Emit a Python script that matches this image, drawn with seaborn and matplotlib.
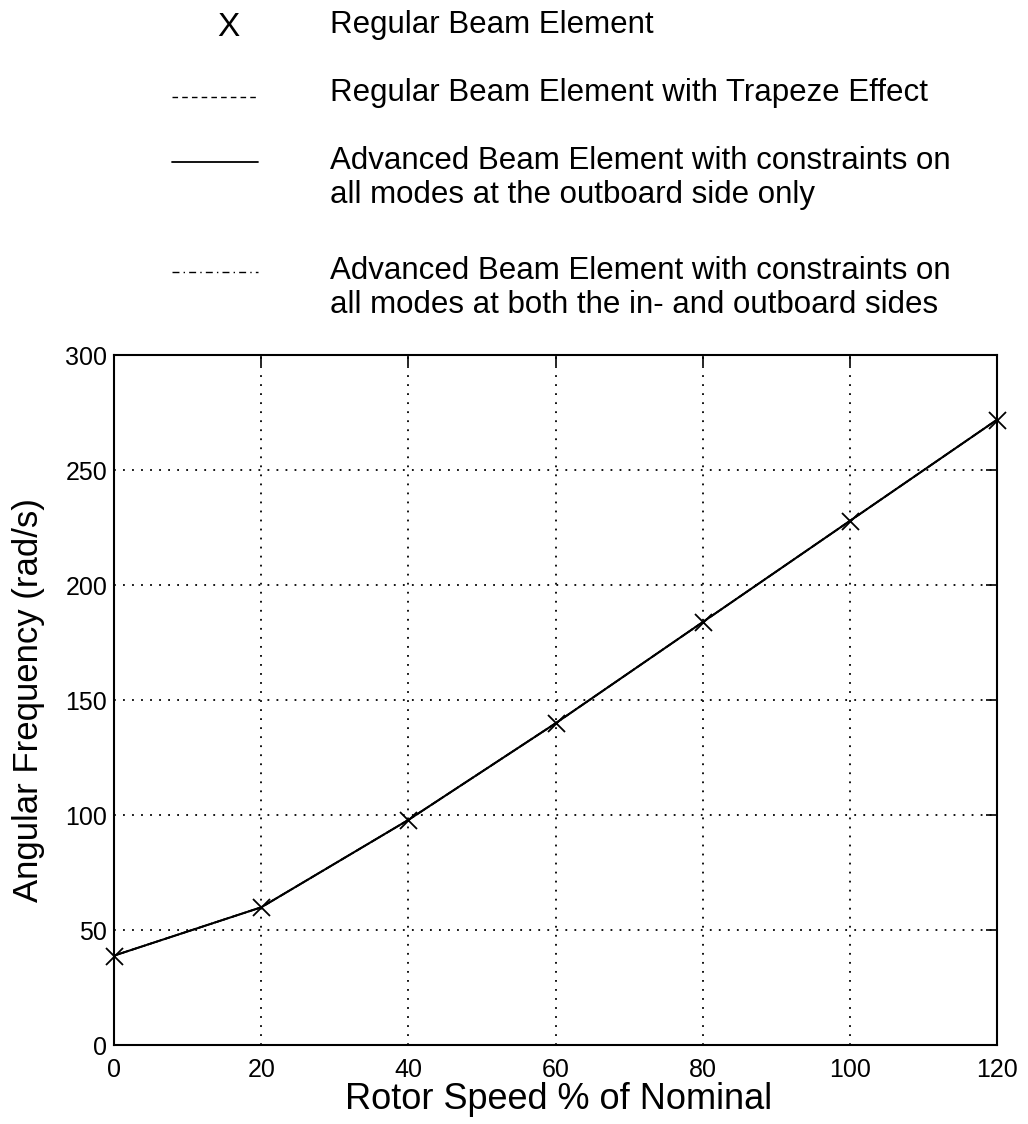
import matplotlib
matplotlib.use("Agg")
import matplotlib.pyplot as plt
from matplotlib.lines import Line2D
import seaborn as sns
import pandas as pd

rotor_speed = [0, 20, 40, 60, 80, 100, 120]
regular = [39, 60, 98, 140, 184, 228, 272]
regular_trapeze = [39, 60, 98, 140, 184, 228, 272]
advanced_outboard = [39, 60, 98, 140, 184, 228, 272]
advanced_both = [39, 60, 98, 140, 184, 228, 272]

legend_labels = [
    "Regular Beam Element",
    "Regular Beam Element with Trapeze Effect",
    "Advanced Beam Element with constraints on\nall modes at the outboard side only",
    "Advanced Beam Element with constraints on\nall modes at both the in- and outboard sides",
]
x_ticks = [0, 20, 40, 60, 80, 100, 120]
y_ticks = [0, 50, 100, 150, 200, 250, 300]

sns.set_style("white")
plt.rcParams['font.family'] = ['Liberation Sans', 'DejaVu Sans']

fig = plt.figure(figsize=(10.28, 11.24), dpi=100)
ax = fig.add_axes([0.111, 0.070, 0.859, 0.614])

df = pd.DataFrame({"x": rotor_speed, "reg": regular, "trap": regular_trapeze,
                   "out": advanced_outboard, "both": advanced_both})

sns.lineplot(data=df, x="x", y="trap", ax=ax, color="black", lw=1.2, linestyle="--")
sns.lineplot(data=df, x="x", y="both", ax=ax, color="black", lw=1.2, linestyle="-.")
sns.lineplot(data=df, x="x", y="out", ax=ax, color="black", lw=1.5, linestyle="-")
sns.scatterplot(data=df, x="x", y="reg", ax=ax, color="black", marker="x", s=150,
                linewidth=1.3, zorder=5, clip_on=False)

ax.set_xlim(0, 120)
ax.set_ylim(0, 300)
ax.set_xticks(x_ticks)
ax.set_yticks(y_ticks)
ax.tick_params(direction="in", length=8, width=1.2, labelsize=18, colors="black",
               labelcolor="black", top=True, right=True)
ax.tick_params(axis="x", pad=9)
ax.tick_params(axis="y", pad=5)
for s in ax.spines.values():
    s.set_color("black")
    s.set_linewidth(1.5)
ax.grid(True, color="black", linestyle=(0, (1, 4)), linewidth=1.3)
ax.set_xlabel("Rotor Speed % of Nominal", fontsize=26, color="black")
ax.set_ylabel("Angular Frequency (rad/s)", fontsize=25, color="black")
ax.xaxis.set_label_coords(0.503, -0.053)
ax.yaxis.set_label_coords(-0.078, 0.5)

# legend (figure coordinates)
W, H = 1028, 1124
def fx(px):
    return px / W
def fy(py):
    return 1 - py / H

fig.text(fx(228), fy(27), "X", fontsize=24, ha="center", va="center", color="black")
fig.add_artist(Line2D([fx(172), fx(258)], [fy(97), fy(97)], color="black", lw=1.0, linestyle=(0, (4, 3))))
fig.add_artist(Line2D([fx(172), fx(258)], [fy(162), fy(162)], color="black", lw=1.3, linestyle="-"))
fig.add_artist(Line2D([fx(172), fx(258)], [fy(272), fy(272)], color="black", lw=1.0, linestyle=(0, (5, 3, 1, 3))))

text_x = fx(330)
fs = 22.5
fig.text(text_x, fy(25), legend_labels[0], fontsize=fs, ha="left", va="center", color="black")
fig.text(text_x, fy(93), legend_labels[1], fontsize=fs, ha="left", va="center", color="black")
fig.text(text_x, fy(178), legend_labels[2], fontsize=fs, ha="left", va="center", linespacing=1.15, color="black")
fig.text(text_x, fy(288), legend_labels[3], fontsize=fs, ha="left", va="center", linespacing=1.15, color="black")

fig.savefig("out.png", dpi=100)
